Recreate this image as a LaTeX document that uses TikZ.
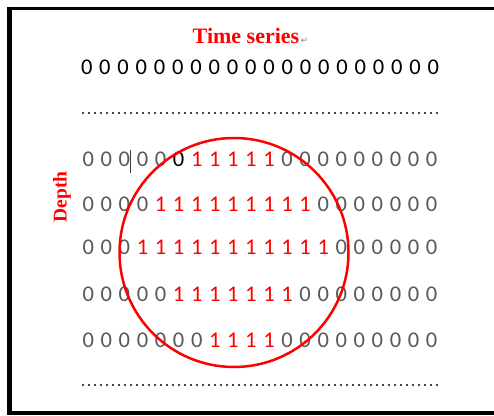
\documentclass[tikz,border=0pt]{standalone}
\usepackage{fontspec}
\setmainfont{Liberation Serif}
\newfontfamily\digitfont{Carlito}
\newfontfamily\symfont{DejaVu Sans}
\usepackage{tikz}
\usetikzlibrary{positioning}
\usepackage{xcolor}
\definecolor{zerogray}{RGB}{89,89,89}

\begin{document}
\begin{tikzpicture}[
  x=1pt, y=-1pt,
  bit/.style={inner sep=0pt, font=\digitfont\fontsize{22.5}{24}\selectfont},
  zero/.style={bit, text=zerogray},
  one/.style={bit, text=red},
  redlabel/.style={text=red, inner sep=0pt, font=\bfseries\fontsize{22}{24}\selectfont},
  dotline/.style={zerogray!80!black, line width=2.2pt, dash pattern=on 2.2pt off 3.8pt},
]
  \useasboundingbox (0,0) rectangle (494,415);

  % Frame (open on the right)
  \draw[line width=3.5pt] (7,8.7) -- (494,8.7);
  \draw[line width=4.5pt] (9.3,6.9) -- (9.3,415);
  \draw[line width=3.5pt] (7,413.2) -- (494,413.2);

  % Labels
  \node[redlabel, anchor=base] (ts) at (246,43.3) {Time series};
  \node[anchor=base west, inner sep=0pt, text=gray, font=\symfont\fontsize{9}{10}\selectfont]
    (pmark) at ([xshift=1pt]ts.base east) {↵};
  \node[redlabel, rotate=90, font=\bfseries\fontsize{19.5}{21}\selectfont] (depth) at (62,197) {Depth};

  % Top row of zeros
  \foreach \c in {1,...,20} {
    \node[bit] (d0-\c) at ({86.7+(\c-1)*18.24},67.5) {0};
  }

  % Dotted separators
  \draw[dotline] (82,113) -- (439,113);
  \draw[dotline] (82,385) -- (439,385);

  % Depth rows: row/y/first one/last one
  \foreach \r/\y/\a/\b in {1/158.8/7/11, 2/204/5/13, 3/247/4/14, 4/294/6/12, 5/340/8/11} {
    \foreach \c in {1,...,20} {
      \pgfmathtruncatemacro\isone{(\c>=\a)&&(\c<=\b)}
      \pgfmathtruncatemacro\isblack{(\r==1)&&(\c==6)}
      \ifnum\isone=1
        \node[one] (d\r-\c) at ({88.3+(\c-1)*18.07},\y) {1};
      \else
        \ifnum\isblack=1
          \node[bit] (d\r-\c) at ({88.3+(\c-1)*18.07},\y) {0};
        \else
          \node[zero] (d\r-\c) at ({88.3+(\c-1)*18.07},\y) {0};
        \fi
      \fi
    }
  }

  % Cursor bar
  \draw[zerogray!70!black, line width=0.8pt] (130,150) -- (130,173);

  % Circled region
  \draw[red, line width=2.5pt] (234,252.5) circle[radius=114.5pt];
\end{tikzpicture}
\end{document}
